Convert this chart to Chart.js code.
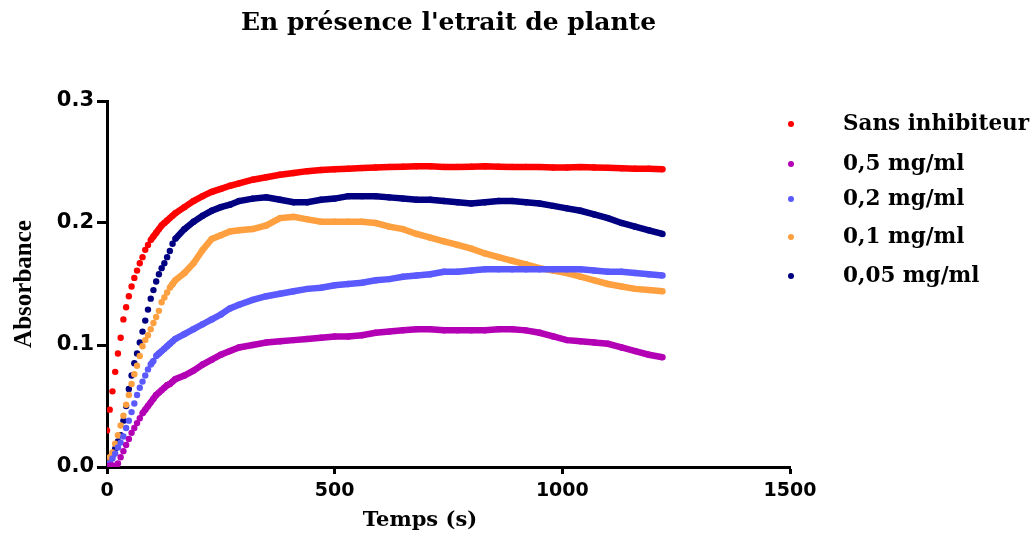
<!DOCTYPE html>
<html>
<head>
<meta charset="utf-8">
<script src="https://cdn.jsdelivr.net/npm/chart.js@4/dist/chart.umd.min.js"></script>
<style>
  html, body { margin: 0; padding: 0; background: #fff; }
  #wrap { width: 1033px; height: 541px; }
</style>
</head>
<body>
<div id="wrap"><canvas id="myChart" width="1033" height="541"></canvas></div>
<script>
// time (s) of each reading, dense at the start
const temps = [0, 6, 12, 18, 24, 30, 36, 42, 48, 54, 60, 66, 72, 78, 84, 90, 96, 102, 108, 114, 120, 126, 132, 138, 144, 150,
  170, 190, 210, 230, 250, 270, 290,
  320, 350, 380, 410, 440, 470, 500, 530, 560, 590, 620, 650, 680, 710, 740, 770, 800, 830, 860, 890, 920, 950, 980,
  1010, 1040, 1070, 1100, 1130, 1160, 1190, 1220];

const sansInhibiteur = [0.030, 0.047, 0.062, 0.078, 0.093, 0.106, 0.121, 0.131, 0.140, 0.148, 0.155, 0.161, 0.167, 0.172, 0.178, 0.182, 0.186, 0.189, 0.192, 0.195, 0.198, 0.200, 0.202, 0.204, 0.206, 0.208,
  0.213, 0.218, 0.222, 0.2255, 0.228, 0.2305, 0.2325,
  0.2355, 0.2375, 0.2395, 0.241, 0.2425, 0.2435, 0.244, 0.2445, 0.245, 0.2455, 0.246, 0.2462, 0.2465, 0.2465, 0.246, 0.246, 0.2462, 0.2465, 0.2462, 0.246, 0.246, 0.2458, 0.2455,
  0.2455, 0.2458, 0.2455, 0.2452, 0.2448, 0.2445, 0.2445, 0.244];

const c05 = [0.000, 0.001, 0.001, 0.000, 0.003, 0.008, 0.013, 0.018, 0.023, 0.028, 0.032, 0.036, 0.040, 0.044, 0.047, 0.050, 0.053, 0.056, 0.059, 0.061, 0.063, 0.065, 0.067, 0.068, 0.070, 0.072,
  0.075, 0.079, 0.084, 0.088, 0.092, 0.095, 0.098,
  0.100, 0.102, 0.103, 0.104, 0.105, 0.106, 0.107, 0.107, 0.108, 0.110, 0.111, 0.112, 0.113, 0.113, 0.112, 0.112, 0.112, 0.112, 0.113, 0.113, 0.112, 0.110, 0.107,
  0.104, 0.103, 0.102, 0.101, 0.098, 0.095, 0.092, 0.090];

const c02 = [0.000, 0.003, 0.007, 0.011, 0.016, 0.020, 0.025, 0.032, 0.038, 0.045, 0.052, 0.059, 0.065, 0.070, 0.075, 0.080, 0.084, 0.087, 0.091, 0.093, 0.095, 0.097, 0.099, 0.101, 0.103, 0.105,
  0.109, 0.113, 0.117, 0.121, 0.125, 0.130, 0.133,
  0.137, 0.140, 0.142, 0.144, 0.146, 0.147, 0.149, 0.150, 0.151, 0.153, 0.154, 0.156, 0.157, 0.158, 0.160, 0.160, 0.161, 0.162, 0.162, 0.162, 0.162, 0.162, 0.162,
  0.162, 0.162, 0.161, 0.160, 0.160, 0.159, 0.158, 0.157];

const c01 = [0.003, 0.008, 0.012, 0.019, 0.026, 0.034, 0.042, 0.051, 0.059, 0.068, 0.076, 0.083, 0.091, 0.099, 0.104, 0.108, 0.113, 0.118, 0.123, 0.128, 0.135, 0.139, 0.143, 0.147, 0.150, 0.153,
  0.159, 0.167, 0.178, 0.187, 0.190, 0.193, 0.194,
  0.195, 0.198, 0.204, 0.205, 0.203, 0.201, 0.201, 0.201, 0.201, 0.200, 0.197, 0.195, 0.191, 0.188, 0.185, 0.182, 0.179, 0.175, 0.172, 0.169, 0.166, 0.163, 0.161,
  0.159, 0.156, 0.153, 0.150, 0.148, 0.146, 0.145, 0.144];

const c005 = [0.001, 0.004, 0.009, 0.015, 0.021, 0.026, 0.038, 0.050, 0.064, 0.075, 0.085, 0.093, 0.102, 0.111, 0.120, 0.129, 0.138, 0.145, 0.152, 0.158, 0.163, 0.167, 0.172, 0.177, 0.183, 0.187,
  0.195, 0.201, 0.206, 0.210, 0.213, 0.215, 0.218,
  0.220, 0.221, 0.219, 0.217, 0.217, 0.219, 0.220, 0.222, 0.222, 0.222, 0.221, 0.220, 0.219, 0.219, 0.218, 0.217, 0.216, 0.217, 0.218, 0.218, 0.217, 0.216, 0.214,
  0.212, 0.210, 0.207, 0.204, 0.200, 0.197, 0.194, 0.191];

const labels = ['Sans inhibiteur', '0,5 mg/ml', '0,2 mg/ml', '0,1 mg/ml', '0,05 mg/ml'];
const colors = ['#ff0000', '#b400b4', '#5a5aff', '#ffa040', '#000080'];
const series = [sansInhibiteur, c05, c02, c01, c005];

const xTicks = [0, 500, 1000, 1500];
const yTicks = [0, 0.1, 0.2, 0.3];

function serie(vals, i) {
  return {
    label: labels[i],
    data: vals.map((v, k) => ({ x: temps[k], y: v })),
    showLine: true,
    borderColor: colors[i],
    backgroundColor: colors[i],
    borderWidth: 6.5,
    pointRadius: 3.2,
    pointBorderWidth: 0,
    pointHoverRadius: 3.2,
    segment: {
      // dense readings on a steep slope stay as separate dots
      borderColor: c => {
        const dx = Math.abs(c.p1.x - c.p0.x), dy = Math.abs(c.p1.y - c.p0.y);
        return (dx < 4 && Math.hypot(dx, dy) > 5.5) ? 'rgba(0,0,0,0)' : colors[i];
      }
    }
  };
}

const extras = {
  id: 'extras',
  afterDraw(chart) {
    const ctx = chart.ctx;
    ctx.save();
    // x axis title
    ctx.fillStyle = '#000';
    ctx.font = 'bold 21px "DejaVu Serif"';
    ctx.textAlign = 'center';
    ctx.textBaseline = 'middle';
    ctx.fillText('Temps (s)', 420, 521);
    // legend
    const rows = [124, 164, 199, 237, 276];
    ctx.font = 'bold 21.5px "DejaVu Serif"';
    ctx.textAlign = 'left';
    labels.forEach((l, i) => {
      ctx.fillStyle = colors[i];
      ctx.beginPath();
      ctx.arc(791, rows[i], 3, 0, Math.PI * 2);
      ctx.fill();
      ctx.fillStyle = '#000';
      ctx.fillText(l, 843, rows[i]);
    });
    ctx.restore();
  }
};

const ctx = document.getElementById('myChart').getContext('2d');
const myChart = new Chart(ctx, {
  type: 'scatter',
  data: { datasets: series.map(serie) },
  options: {
    responsive: false,
    animation: false,
    layout: { padding: { left: 0, right: 243, top: 0, bottom: 0 } },
    plugins: {
      legend: { display: false },
      tooltip: { enabled: false },
      title: {
        display: true,
        text: "En présence l'etrait de plante",
        color: '#000',
        fullSize: false,
        font: { family: 'DejaVu Serif', weight: 'bold', size: 25 },
        padding: { top: 8, bottom: 63 }
      }
    },
    scales: {
      x: {
        type: 'linear',
        min: 0,
        max: 1500,
        afterFit: s => { s.height = 74; },
        afterBuildTicks: s => { s.ticks = xTicks.map(v => ({ value: v })); },
        ticks: {
          color: '#000',
          padding: 6,
          callback: v => String(v),
          font: { family: 'DejaVu Sans', weight: 'bold', size: 19 }
        },
        grid: { drawOnChartArea: false, tickLength: 7, tickWidth: 3, tickColor: '#000' },
        border: { width: 3, color: '#000' }
      },
      y: {
        min: 0,
        max: 0.3,
        afterFit: s => { s.width = 107; },
        afterBuildTicks: s => { s.ticks = yTicks.map(v => ({ value: v })); },
        ticks: {
          color: '#000',
          padding: 3,
          callback: v => v.toFixed(1),
          font: { family: 'DejaVu Sans', weight: 'bold', size: 21 }
        },
        title: {
          display: true,
          text: 'Absorbance',
          color: '#000',
          padding: { top: 10, bottom: 0 },
          font: { family: 'Liberation Serif', weight: 'bold', size: 25 }
        },
        grid: { drawOnChartArea: false, tickLength: 10, tickWidth: 3, tickColor: '#000' },
        border: { width: 3, color: '#000' }
      }
    }
  },
  plugins: [extras]
});
</script>
</body>
</html>
